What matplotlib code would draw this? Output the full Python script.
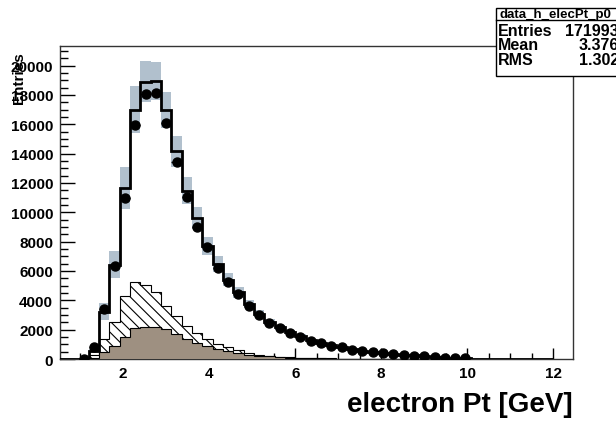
"""
electron Pt 分布：数据点 + MC 堆叠直方图（ROOT 风格）
输出 out.png
"""

import numpy as np
import matplotlib
matplotlib.use('Agg')
import matplotlib.pyplot as plt
from matplotlib.patches import Rectangle
from matplotlib.ticker import MultipleLocator

plt.rcParams['font.family'] = ['Liberation Sans', 'DejaVu Sans']
plt.rcParams['font.weight'] = 'bold'
plt.rcParams['hatch.linewidth'] = 0.8

# ── 分箱：0–12 GeV，50 个 bin ──
N_BINS = 50
X_LO, X_HI = 0.0, 12.0

# ── 数据（黑点），从第 4 个 bin 开始 ──
data_first = 4
data_counts = [30, 820, 3380, 6320, 11000, 15980, 18080, 18150, 16120, 13420,
               11070, 9000, 7620, 6200, 5230, 4430, 3640, 3000, 2430, 2100,
               1780, 1520, 1250, 1070, 910, 790, 640, 530, 460, 390,
               340, 290, 230, 180, 140, 90, 55, 40]

# ── MC，从第 5 个 bin 开始 ──
mc_first = 5
mc_total = [550, 3230, 6430, 11660, 16980, 18910, 18960, 16980, 14160, 11480,
            9600, 7680, 6480, 5400, 4550, 3750, 3080, 2520, 2150, 1820,
            1560, 1290, 1100, 940, 810, 660, 550, 470, 400, 345,
            295, 240, 190, 145, 100, 65, 45]
mc_err = [150, 570, 940, 1440, 1600, 1420, 1280, 1200, 1050, 900,
          750, 620, 520, 430, 360, 300, 250, 210, 170, 140,
          120, 100, 85, 72, 62, 52, 44, 38, 32, 28,
          24, 20, 16, 13, 10, 8, 6]
hatch_total = [280, 1360, 2500, 4270, 5270, 5050, 4550, 3640, 2920, 2270,
               1750, 1360, 1020, 800, 580, 420, 300, 230, 160, 120,
               90, 70, 50, 40, 30, 20, 15, 10]
brown_total = [40, 470, 880, 1480, 2080, 2200, 2150, 2030, 1700, 1360,
               1120, 900, 680, 560, 400, 300, 230, 175, 130, 100,
               75, 55, 40, 30, 20, 15, 10, 8]

stat_rows = [('Entries', '171993'), ('Mean', '3.376'), ('RMS', '1.302')]

BROWN = '#9e9081'
BAND = '#b1c0cd'


def full(vals, first):
    arr = np.zeros(N_BINS)
    arr[first:first + len(vals)] = vals
    return arr


edges = np.linspace(X_LO, X_HI, N_BINS + 1)
centers = 0.5 * (edges[:-1] + edges[1:])
half_w = 0.5 * (edges[1] - edges[0])

mc = full(mc_total, mc_first)
err = full(mc_err, mc_first)
hat = full(hatch_total, mc_first)
brn = full(brown_total, mc_first)

d_idx = np.arange(data_first, data_first + len(data_counts))
d_val = np.array(data_counts, dtype=float)

# ── 绘图 ──
fig = plt.figure(figsize=(6.16, 4.27), dpi=100)
ax = fig.add_axes([60 / 616, 1 - 360 / 427, 513 / 616, 313 / 427])

ax.stairs(mc, edges, fill=True, facecolor='white', edgecolor='none', zorder=1)
ax.stairs(mc + err, edges, baseline=mc - err, fill=True,
          facecolor=BAND, edgecolor='none', zorder=2)
ax.stairs(hat, edges, fill=True, facecolor='white', edgecolor='black',
          hatch='\\\\\\', linewidth=0.8, zorder=3)
ax.stairs(brn, edges, fill=True, facecolor=BROWN, edgecolor='black',
          linewidth=0.8, zorder=4)
ax.stairs(mc, edges, color='black', linewidth=2, zorder=5)
ax.errorbar(centers[d_idx], d_val, xerr=half_w, yerr=np.sqrt(d_val),
            fmt='o', color='black', ms=6.5, elinewidth=1, capsize=0, zorder=6)

ax.set_xlim(0.53, 12.46)
ax.set_ylim(0, 21340)
ax.xaxis.set_major_locator(MultipleLocator(2))
ax.xaxis.set_minor_locator(MultipleLocator(0.5))
ax.yaxis.set_major_locator(MultipleLocator(2000))
ax.yaxis.set_minor_locator(MultipleLocator(500))
ax.tick_params(which='both', direction='in', top=False, right=False,
               labelsize=11, width=1)
ax.tick_params(axis='x', which='major', length=8, pad=5)
ax.tick_params(axis='x', which='minor', length=4)
ax.tick_params(axis='y', which='major', length=11, pad=5)
ax.tick_params(axis='y', which='minor', length=6)
for lab in ax.get_xticklabels() + ax.get_yticklabels():
    lab.set_fontweight('bold')
for sp in ax.spines.values():
    sp.set_linewidth(1)
    sp.set_color('#333333')

# 轴标题
fig.text(573 / 616, 1 - 405 / 427, 'electron Pt [GeV]', ha='right',
         va='center', fontsize=20, fontweight='bold')
fig.text(19 / 616, 1 - 52 / 427, 'Entries', rotation=90, ha='center',
         va='top', fontsize=11, fontweight='bold')

# ── 统计框 ──
bx0, bx1, by0, by1 = 496, 620, 9.3, 77
fig.patches.append(Rectangle((bx0 / 616, 1 - by1 / 427), (bx1 - bx0) / 616,
                             (by1 - by0) / 427, transform=fig.transFigure,
                             facecolor='white', edgecolor='black',
                             linewidth=1, zorder=1))
fig.add_artist(plt.Line2D([bx0 / 616, bx1 / 616], [1 - 20.7 / 427] * 2,
                          transform=fig.transFigure, color='black',
                          linewidth=1, zorder=2))
fig.text(555 / 616, 1 - 15 / 427, 'data_h_elecPt_p0', ha='center',
         va='center', fontsize=9.5, fontweight='bold')
for i, (name, val) in enumerate(stat_rows):
    y = 1 - (31.5 + 14.5 * i) / 427
    fig.text(498 / 616, y, name, ha='left', va='center', fontsize=11.5,
             fontweight='bold')
    fig.text(619 / 616, y, val, ha='right', va='center', fontsize=11.5,
             fontweight='bold')

fig.savefig('out.png', dpi=100)
